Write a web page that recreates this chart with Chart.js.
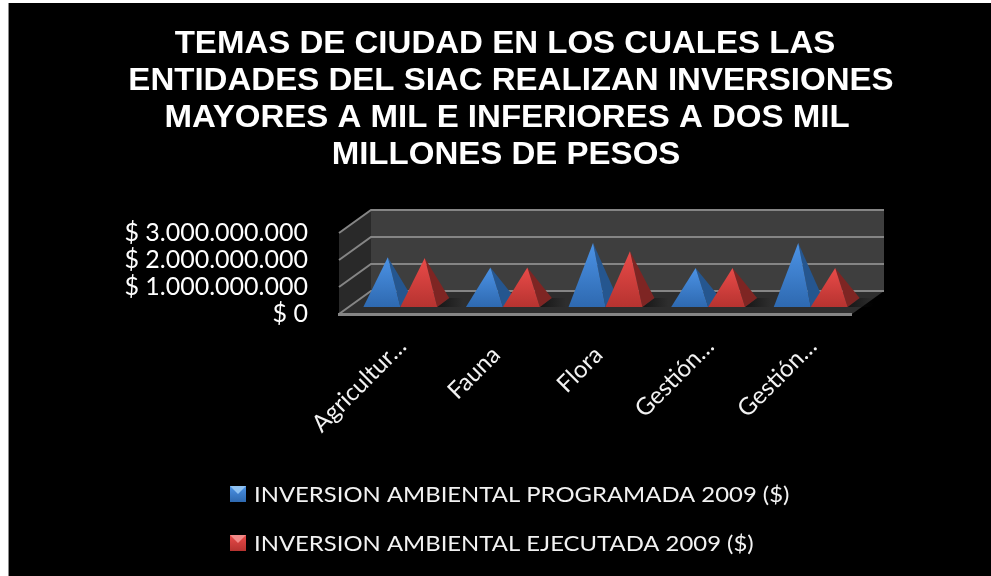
<!DOCTYPE html>
<html>
<head>
<meta charset="utf-8">
<style>
html,body{margin:0;padding:0;background:#fff;}
canvas{display:block;}
</style>
<script src="https://cdn.jsdelivr.net/npm/chart.js@4"></script>
</head>
<body>
<canvas id="chart" width="991" height="576"></canvas>
<script>
let titleLines=["TEMAS DE CIUDAD EN LOS CUALES LAS","ENTIDADES DEL SIAC REALIZAN INVERSIONES","MAYORES A MIL E INFERIORES A DOS MIL","MILLONES DE PESOS"];
let titleCenters=[505,511,507,506];
let categories=["Agricultur…","Fauna","Flora","Gestión…","Gestión…"];
let programada=[1680000000,1300000000,2200000000,1280000000,2200000000];
let ejecutada=[1650000000,1300000000,1900000000,1280000000,1280000000];
let seriesNames=["INVERSION AMBIENTAL PROGRAMADA 2009 ($)","INVERSION AMBIENTAL EJECUTADA 2009 ($)"];
let yTicks=[0,1000000000,2000000000,3000000000];

// depth of the fake 3d box
const DX=32,DY=-23;
const blue={top:"#4c93e6",bottom:"#2e69b0",side:"#25568f"};
const red={top:"#ea4b49",bottom:"#b63330",side:"#7e2523"};

function poly(ctx,pts,fill){
ctx.beginPath();
pts.forEach((p,i)=>i?ctx.lineTo(p[0],p[1]):ctx.moveTo(p[0],p[1]));
ctx.closePath();
ctx.fillStyle=fill;
ctx.fill();
}

function money(v){
return "$ "+String(v).replace(/\B(?=(\d{3})+$)/g,".");
}

// the original picture is a bit stretched sideways
function wideText(ctx,t,x,y,sx,align){
ctx.save();
ctx.translate(x,y);
ctx.scale(sx,1);
ctx.textAlign=align;
ctx.textBaseline="alphabetic";
ctx.fillText(t,0,0);
ctx.restore();
}

function drawBox(chart){
let ctx=chart.ctx,y=chart.scales.y,a=chart.chartArea;
let top=y.getPixelForValue(y.max),bot=y.getPixelForValue(0);
poly(ctx,[[a.left+DX,top+DY],[a.right+DX,top+DY],[a.right+DX,bot+DY],[a.left+DX,bot+DY]],"#3e3e3e");
poly(ctx,[[a.left,top],[a.left+DX,top+DY],[a.left+DX,bot+DY],[a.left,bot]],"#292929");
poly(ctx,[[a.left,bot],[a.left+DX,bot+DY],[a.right+DX,bot+DY],[a.right,bot]],"#2e2e2e");
ctx.strokeStyle="#858585";
ctx.lineWidth=2;
yTicks.forEach(v=>{
let py=y.getPixelForValue(v);
ctx.beginPath();
ctx.moveTo(a.left,py);
ctx.lineTo(a.left+DX,py+DY);
ctx.lineTo(a.right+DX,py+DY);
ctx.stroke();
});
ctx.lineWidth=3;
ctx.beginPath();
ctx.moveTo(a.left-1,bot+0.5);
ctx.lineTo(a.right,bot+0.5);
ctx.stroke();
}

function drawPyramid(ctx,bar,col){
let cx=bar.x+DX/2,cy=bar.base+DY/2,apexY=bar.y+DY/2,hw=bar.width/2;
let fl=[cx-6-hw,cy+4.5],fr=[cx-6+hw,cy+4.5],br=[cx+6+hw,cy-4.5];
// floor shadow fades out to the right
let sh=ctx.createLinearGradient(fr[0],0,fr[0]+26,0);
sh.addColorStop(0,"rgba(16,16,16,.8)");
sh.addColorStop(1,"rgba(16,16,16,0)");
poly(ctx,[fr,[fr[0]+26,fr[1]],[br[0]+14,br[1]],br],sh);
let g=ctx.createLinearGradient(0,apexY,0,fl[1]);
g.addColorStop(0,col.top);
g.addColorStop(1,col.bottom);
poly(ctx,[[cx,apexY],fr,br],col.side);
poly(ctx,[[cx,apexY],fl,fr],g);
}

const boxPlugin={
id:"box3d",
beforeDatasetsDraw(chart){
drawBox(chart);
},
afterDatasetsDraw(chart){
let ctx=chart.ctx;
categories.forEach((c,i)=>{
drawPyramid(ctx,chart.getDatasetMeta(0).data[i],blue);
drawPyramid(ctx,chart.getDatasetMeta(1).data[i],red);
});
}
};

const pagePlugin={
id:"page",
beforeDraw(chart){
let ctx=chart.ctx;
ctx.fillStyle="#000";
ctx.fillRect(8,3,983,573);
ctx.fillStyle="#8a8a8a";
ctx.fillRect(8,3,1,573);
},
afterDraw(chart){
let ctx=chart.ctx;
// title lines are not centred on the same x in the original
ctx.font="bold 30.5px 'Liberation Sans'";
ctx.fillStyle="#fff";
titleLines.forEach((t,i)=>wideText(ctx,t,titleCenters[i],52.5+i*37.3,1.083,"center"));
// legend
[blue,red].forEach((col,i)=>{
let ly=486+i*49;
let g=ctx.createLinearGradient(0,ly,0,ly+16);
g.addColorStop(0,col.top);
g.addColorStop(1,col.bottom);
ctx.fillStyle=g;
ctx.fillRect(230,ly,16,16);
poly(ctx,[[230,ly],[246,ly],[238,ly+8]],i?"#f28a88":"#8fc2f2");
ctx.font="22px Lato";
ctx.fillStyle="#f2f2f2";
wideText(ctx,seriesNames[i],254,ly+16,1.085,"left");
});
}
};

new Chart(document.getElementById("chart"),{
type:"bar",
data:{
labels:categories,
datasets:[
{label:seriesNames[0],data:programada,backgroundColor:"transparent"},
{label:seriesNames[1],data:ejecutada,backgroundColor:"transparent"}
]
},
options:{
responsive:false,
animation:false,
events:[],
categoryPercentage:0.72,
barPercentage:1,
layout:{padding:{top:233,right:139,left:0,bottom:0}},
plugins:{legend:{display:false},title:{display:false},tooltip:{enabled:false}},
scales:{
x:{
grid:{display:false},
border:{display:false},
afterFit(s){s.height=262;},
ticks:{
color:"#f2f2f2",
font:{family:"Lato",size:24},
autoSkip:false,
minRotation:45,
maxRotation:45,
padding:10,
labelOffset:12,
callback(v,i){
let l=categories[i];
return l.endsWith("…")?l:l+"  ";
}
}
},
y:{
min:0,
max:3000000000,
grid:{display:false},
border:{display:false},
afterFit(s){s.width=339;},
afterBuildTicks(s){s.ticks=yTicks.map(v=>({value:v}));},
ticks:{
color:"#ffffff",
font:{family:"Lato",size:25},
padding:23,
autoSkip:false,
callback:v=>money(v)
}
}
}
},
plugins:[pagePlugin,boxPlugin]
});
</script>
</body>
</html>
